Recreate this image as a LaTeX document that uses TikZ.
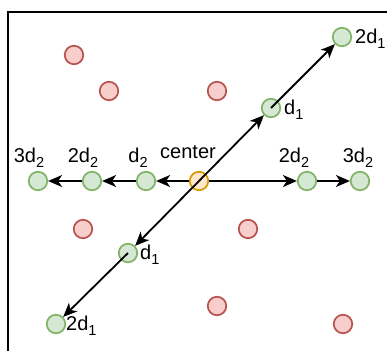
\documentclass[tikz,border=0pt]{standalone}
\usepackage{fontspec}
\setmainfont{Liberation Sans}
\usetikzlibrary{arrows.meta}
\definecolor{gfill}{HTML}{D5E8D4}
\definecolor{gline}{HTML}{82B366}
\definecolor{rfill}{HTML}{F8CECC}
\definecolor{rline}{HTML}{B85450}
\definecolor{ofill}{HTML}{FFE6CC}
\definecolor{oline}{HTML}{D79B00}
\newcommand\lowsub[1]{\raisebox{-5pt}{\fontsize{14.5}{14.5}\selectfont #1}}
\tikzset{
  pt/.style={circle, minimum size=18.5pt, inner sep=0pt, line width=1.7pt},
  good/.style={pt, draw=gline, fill=gfill},
  bad/.style={pt, draw=rline, fill=rfill},
  origin/.style={pt, draw=oline, fill=ofill},
  lbl/.style={inner sep=0pt, font=\fontsize{20}{23}\selectfont},
  link/.style={line width=1.8pt, -{Stealth[length=14pt,width=12pt,inset=4pt]}},
}
\begin{document}
\begin{tikzpicture}[x=1pt,y=-1pt]
\useasboundingbox (0,0) rectangle (387,351);
\fill[white] (0,0) rectangle (387,351);
% frame
\draw[line width=2.5pt] (8,351) -- (8,12) -- (387,12);

% off-grid samples
\node[bad] (r1) at (74,55) {};
\node[bad] (r2) at (109,91) {};
\node[bad] (r3) at (217,91) {};
\node[bad] (r4) at (83,229) {};
\node[bad] (r5) at (248,229) {};
\node[bad] (r6) at (217,306) {};
\node[bad] (r7) at (343,324) {};

% sampling points
\node[origin] (c) at (199,181) {};
\node[good] (l1) at (146,181) {};
\node[good] (l2) at (92,181) {};
\node[good] (l3) at (38,181) {};
\node[good] (h2) at (307,181) {};
\node[good] (h3) at (360,181) {};
\node[good] (u1) at (271,108) {};
\node[good] (u2) at (342,37) {};
\node[good] (v1) at (128,253) {};
\node[good] (v2) at (56,324) {};

% labels
\node[lbl] (tc) at (188,152) {center};
\node[lbl] (tl1) at (138,158) {d\lowsub{2}};
\node[lbl] (tl2) at (83,158) {2d\lowsub{2}};
\node[lbl] (tl3) at (29,158) {3d\lowsub{2}};
\node[lbl] (th2) at (294,158) {2d\lowsub{2}};
\node[lbl] (th3) at (358,158) {3d\lowsub{2}};
\node[lbl, anchor=west] (tu1) at (284,110) {d\lowsub{1}};
\node[lbl, anchor=west] (tu2) at (355,39) {2d\lowsub{1}};
\node[lbl, anchor=west] (tv1) at (140,255) {d\lowsub{1}};
\node[lbl, anchor=west] (tv2) at (66,326) {2d\lowsub{1}};

% steps
\draw[link] (c) -- (l1);
\draw[link] (l1) -- (l2);
\draw[link] (l2) -- (l3);
\draw[link] (c) -- (h2);
\draw[link] (h2) -- (h3);
\draw[link] (c.center) -- (u1);
\draw[link] (u1.center) -- (u2);
\draw[link] (c.center) -- (v1);
\draw[link] (v1.center) -- (v2);
\end{tikzpicture}
\end{document}
